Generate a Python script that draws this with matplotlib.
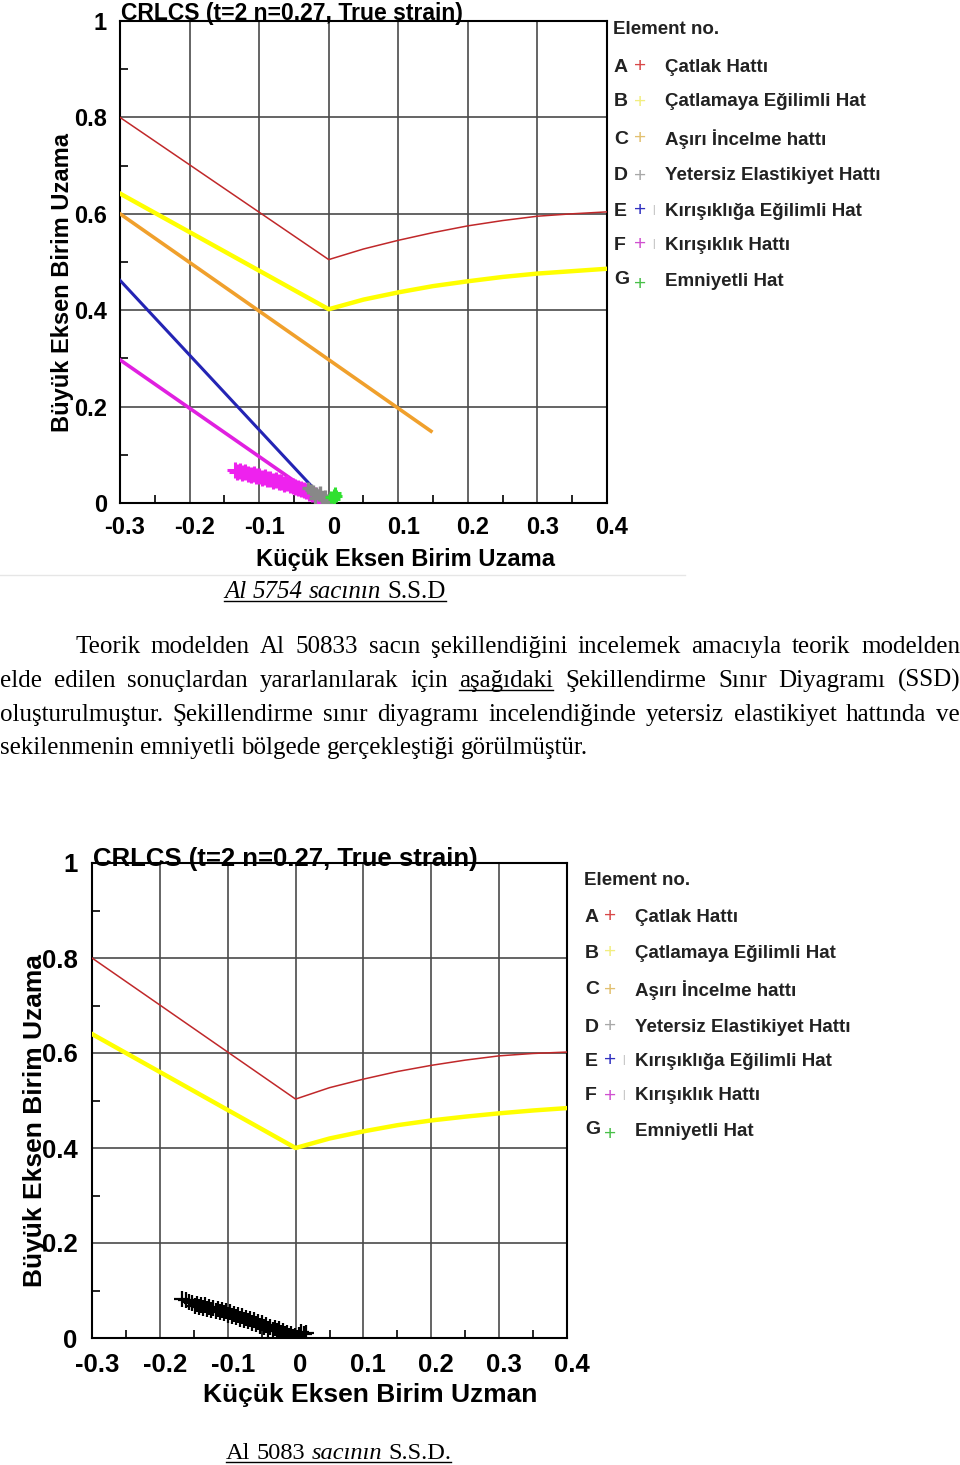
import matplotlib
matplotlib.use('Agg')
import matplotlib.pyplot as plt
from matplotlib.lines import Line2D
from matplotlib.transforms import ScaledTranslation

# ---------------- data ----------------
xticks = [-0.3, -0.2, -0.1, 0.0, 0.1, 0.2, 0.3, 0.4]
xtick_labels = ['-0.3', '-0.2', '-0.1', '0', '0.1', '0.2', '0.3', '0.4']
yticks = [0.0, 0.2, 0.4, 0.6, 0.8, 1.0]
ytick_labels = ['0', '0.2', '0.4', '0.6', '0.8', '1']

# chart 1 (Al 5754)
red1_x = [-0.3, 0.0, 0.05, 0.1, 0.15, 0.2, 0.25, 0.3, 0.35, 0.4]
red1_y = [0.80, 0.505, 0.527, 0.545, 0.561, 0.575, 0.586, 0.595, 0.600, 0.604]
yel1_x = [-0.3, 0.0, 0.05, 0.1, 0.15, 0.2, 0.25, 0.3, 0.35, 0.4]
yel1_y = [0.642, 0.402, 0.422, 0.437, 0.450, 0.460, 0.469, 0.476, 0.481, 0.486]
org1_x = [-0.3, 0.147]
org1_y = [0.60, 0.149]
blu1_x = [-0.3, -0.015]
blu1_y = [0.462, 0.020]
mag1_x = [-0.3, -0.012]
mag1_y = [0.297, 0.008]
magp_x = [-0.135, -0.132, -0.128, -0.124, -0.12, -0.116, -0.112, -0.108, -0.104, -0.10,
          -0.096, -0.092, -0.088, -0.084, -0.08, -0.076, -0.072, -0.068, -0.064, -0.06,
          -0.056, -0.052, -0.048, -0.044, -0.04, -0.036, -0.032, -0.028, -0.024, -0.02,
          -0.016, -0.012, -0.008]
magp_y = [0.068, 0.064, 0.066, 0.062, 0.065, 0.061, 0.058, 0.060, 0.055, 0.057,
          0.052, 0.054, 0.049, 0.050, 0.046, 0.047, 0.043, 0.044, 0.040, 0.041,
          0.037, 0.035, 0.033, 0.031, 0.029, 0.026, 0.024, 0.021, 0.019, 0.016,
          0.013, 0.010, 0.007]
gray_x = [-0.03, -0.026, -0.022, -0.018, -0.014, -0.01, -0.007, -0.004, -0.002, 0.0, 0.002, -0.005, -0.012, -0.02]
gray_y = [0.032, 0.028, 0.024, 0.020, 0.016, 0.012, 0.009, 0.006, 0.003, 0.001, 0.004, 0.015, 0.022, 0.010]
green_x = [0.004, 0.007, 0.009, 0.011, 0.008]
green_y = [0.012, 0.016, 0.020, 0.015, 0.009]

# chart 2 (Al 5083)
red2_x = [-0.3, 0.0, 0.05, 0.1, 0.15, 0.2, 0.25, 0.3, 0.35, 0.4]
red2_y = [0.80, 0.503, 0.527, 0.545, 0.561, 0.574, 0.585, 0.594, 0.599, 0.602]
yel2_x = [-0.3, 0.0, 0.05, 0.1, 0.15, 0.2, 0.25, 0.3, 0.35, 0.4]
yel2_y = [0.640, 0.400, 0.420, 0.435, 0.448, 0.458, 0.466, 0.473, 0.479, 0.484]
blk_x = [-0.168, -0.162, -0.157, -0.152, -0.148, -0.145, -0.142, -0.139, -0.136, -0.133,
         -0.13, -0.127, -0.124, -0.121, -0.118, -0.115, -0.112, -0.109, -0.106, -0.103,
         -0.1, -0.097, -0.094, -0.091, -0.088, -0.085, -0.082, -0.079, -0.076, -0.073,
         -0.07, -0.067, -0.064, -0.061, -0.058, -0.055, -0.052, -0.049, -0.046, -0.043,
         -0.04, -0.037, -0.034, -0.031, -0.028, -0.025, -0.022, -0.019, -0.016, -0.013,
         -0.01, -0.007, -0.004, -0.001, 0.002, 0.005, 0.008, 0.012, 0.016]
blk_y = [0.083, 0.080, 0.076, 0.074, 0.068, 0.072, 0.066, 0.070, 0.063, 0.069,
         0.061, 0.066, 0.059, 0.064, 0.056, 0.062, 0.054, 0.059, 0.052, 0.057,
         0.049, 0.054, 0.046, 0.051, 0.044, 0.049, 0.041, 0.046, 0.038, 0.043,
         0.035, 0.040, 0.032, 0.037, 0.029, 0.034, 0.026, 0.031, 0.023, 0.028,
         0.020, 0.024, 0.017, 0.021, 0.014, 0.018, 0.011, 0.014, 0.008, 0.011,
         0.005, 0.008, 0.002, 0.005, 0.001, 0.006, 0.012, 0.008, 0.010]

legend_letters = ['A', 'B', 'C', 'D', 'E', 'F', 'G']
legend_names = ['Çatlak Hattı', 'Çatlamaya Eğilimli Hat', 'Aşırı İncelme hattı',
                'Yetersiz Elastikiyet Hattı', 'Kırışıklığa Eğilimli Hat', 'Kırışıklık Hattı',
                'Emniyetli Hat']
legend_colors = ['#d84848', '#f2ee80', '#e2c070', '#a8a8a8', '#3030c0', '#d050d0', '#48c048']

para_lines = [
    "Teorik modelden Al 50833 sacın şekillendiğini incelemek amacıyla teorik modelden",
    "elde edilen sonuçlardan yararlanılarak için aşağıdaki Şekillendirme Sınır Diyagramı (SSD)",
    "oluşturulmuştur. Şekillendirme sınır diyagramı incelendiğinde yetersiz elastikiyet hattında ve",
    "sekilenmenin emniyetli bölgede gerçekleştiği görülmüştür.",
]

# ---------------- figure ----------------
W, H = 960, 1465
fig = plt.figure(figsize=(9.6, 14.65), dpi=100)
fig.patch.set_facecolor('white')
renderer = fig.canvas.get_renderer()
SANS = 'Liberation Sans'
SERIF = 'Liberation Serif'


def fx(x):
    return x / W


def fy(y):
    return 1 - y / H


def style_axes(ax, tick_fs, pad):
    ax.set_xlim(-0.3, 0.4)
    ax.set_ylim(0, 1)
    ax.set_xticks(xticks)
    ax.set_xticklabels(xtick_labels)
    ax.set_yticks(yticks)
    ax.set_yticklabels(ytick_labels)
    ax.set_xticks([-0.25, -0.15, -0.05, 0.05, 0.15, 0.25, 0.35], minor=True)
    ax.set_yticks([0.1, 0.3, 0.5, 0.7, 0.9], minor=True)
    ax.tick_params(which='major', length=0, pad=pad)
    ax.tick_params(which='minor', direction='in', length=6, width=1.2, color='black')
    shift = ScaledTranslation(5 / 100, 0, fig.dpi_scale_trans)
    for lab in ax.get_xticklabels():
        lab.set_transform(lab.get_transform() + shift)
    for lab in ax.get_xticklabels() + ax.get_yticklabels():
        lab.set_fontfamily(SANS)
        lab.set_fontweight('bold')
        lab.set_fontsize(tick_fs)
    ax.grid(True, which='major', color='#4a4a4a', lw=1.2)
    ax.set_axisbelow(True)
    for s in ax.spines.values():
        s.set_linewidth(1.5)
        s.set_color('black')


def legend(x_letter, x_plus, x_text, y_head, ys):
    fig.text(fx(x_letter - 1), fy(y_head), 'Element no.', fontsize=13.5, fontweight='bold',
             family=SANS, va='center', ha='left', color='#222222')
    for i, (L, name, c) in enumerate(zip(legend_letters, legend_names, legend_colors)):
        y = ys[i]
        dy_letter = -3 if L == 'G' else 0
        dy_plus = 3 if L == 'G' else 0
        fig.text(fx(x_letter), fy(y + dy_letter), L, fontsize=14, fontweight='bold', family=SANS,
                 va='center', ha='left', color='#222222')
        fig.text(fx(x_plus), fy(y + dy_plus), '+', fontsize=15, family=SANS,
                 va='center', ha='center', color=c)
        if L in ('E', 'F'):
            fig.text(fx(x_plus + 13), fy(y - 1), '|', fontsize=7, family=SANS,
                     va='center', ha='center', color='#aaaaaa')
        fig.text(fx(x_text), fy(y), name, fontsize=13.5, fontweight='bold', family=SANS,
                 va='center', ha='left', color='#222222')


# ---- chart 1 ----
ax1 = fig.add_axes([fx(120), fy(503), 487 / W, 482 / H])
style_axes(ax1, 17, 9.5)
ax1.plot(red1_x, red1_y, color='#c0282a', lw=1.1, zorder=3)
ax1.plot(yel1_x, yel1_y, color='#ffff00', lw=3.2, zorder=3)
ax1.plot(org1_x, org1_y, color='#f0a02c', lw=2.6, zorder=3)
ax1.plot(blu1_x, blu1_y, color='#2424b4', lw=2.2, zorder=3)
ax1.plot(mag1_x, mag1_y, color='#e020e0', lw=2.6, zorder=3)
ax1.plot(magp_x, magp_y, ls='none', marker='+', ms=11, mew=2.2, color='#ee22ee', zorder=4)
ax1.plot(gray_x, gray_y, ls='none', marker='+', ms=9, mew=2.4, color='#888888', zorder=5)
ax1.plot(green_x, green_y, ls='none', marker='+', ms=9, mew=2.2, color='#30e030', zorder=6)
ax1.text(0.002, 1.003, 'CRLCS (t=2 n=0.27, True strain)', transform=ax1.transAxes,
         fontsize=16.5, fontweight='bold', family=SANS, va='baseline', ha='left')
ax1.set_xlabel('Küçük Eksen Birim Uzama', fontsize=17, fontweight='bold', family=SANS, va='center')
ax1.xaxis.set_label_coords(0.587, -0.118)
ax1.set_ylabel('Büyük Eksen Birim Uzama', fontsize=17, fontweight='bold', family=SANS, va='center')
ax1.yaxis.set_label_coords(-0.119, 0.457)
legend(614, 640, 665, 30, [67, 102, 139, 176, 211, 245, 282])

# separator line under chart 1
fig.add_artist(Line2D([fx(0), fx(685)], [fy(575), fy(575)], transform=fig.transFigure,
                      color='#e6e6e6', lw=1))

# ---- chart 2 ----
ax2 = fig.add_axes([fx(92), fy(1338), 475 / W, 475 / H])
style_axes(ax2, 18.5, 10.5)
ax2.plot(red2_x, red2_y, color='#c0282a', lw=1.1, zorder=3)
ax2.plot(yel2_x, yel2_y, color='#ffff00', lw=3.2, zorder=3)
ax2.plot(blk_x, blk_y, ls='none', marker='+', ms=12, mew=1.6, color='black', zorder=4)
ax2.text(0.002, 0.994, 'CRLCS (t=2 n=0.27, True strain)', transform=ax2.transAxes,
         fontsize=18.5, fontweight='bold', family=SANS, va='baseline', ha='left')
ax2.set_xlabel('Küçük Eksen Birim Uzman', fontsize=19, fontweight='bold', family=SANS, va='center')
ax2.xaxis.set_label_coords(0.586, -0.12)
ax2.set_ylabel('Büyük Eksen Birim Uzama', fontsize=19, fontweight='bold', family=SANS, va='center')
ax2.yaxis.set_label_coords(-0.12, 0.457)
legend(585, 610, 635, 880, [917, 953, 990, 1027, 1061, 1096, 1132])


# ---------------- body text ----------------
def measure(t):
    return t.get_window_extent(renderer=renderer).width


def space_width(size):
    a = fig.text(0, 0, 'n n', fontsize=size, family=SERIF)
    b = fig.text(0, 0, 'nn', fontsize=size, family=SERIF)
    w = measure(a) - measure(b)
    a.remove()
    b.remove()
    return w


def runs_line(runs, x0, y, size, x1=None, underline_all=False):
    """runs: list of (word, style, underline)"""
    texts, widths = [], []
    for word, st, ul in runs:
        t = fig.text(fx(x0), fy(y), word, fontsize=size, family=SERIF, style=st,
                     va='baseline', ha='left', color='black')
        texts.append(t)
        widths.append(measure(t))
    if x1 is None or len(runs) < 2:
        gap = space_width(size)
    else:
        gap = (x1 - x0 - sum(widths)) / (len(runs) - 1)
    x = x0
    for i, t in enumerate(texts):
        t.set_x(fx(x))
        if runs[i][2]:
            fig.add_artist(Line2D([fx(x), fx(x + widths[i])], [fy(y + 3), fy(y + 3)],
                                  transform=fig.transFigure, color='black', lw=1))
        x += widths[i] + gap
    end = x - gap
    if underline_all:
        fig.add_artist(Line2D([fx(x0), fx(end)], [fy(y + 3), fy(y + 3)],
                              transform=fig.transFigure, color='black', lw=1))
    return end


PFS = 18
bases = [653, 687, 721, 754]
lefts = [75, 0, 0, 0]
rights = [960, 960, 960, None]
for k, line in enumerate(para_lines):
    words = line.split(' ')
    runs = [(w, 'normal', (k == 1 and w == 'aşağıdaki')) for w in words]
    runs_line(runs, lefts[k], bases[k], PFS, rights[k])

# captions
runs_line([('Al', 'italic', False), ('5754', 'italic', False), ('sacının', 'italic', False),
           ('S.S.D', 'normal', False)], 224, 598, 18, None, underline_all=True)
runs_line([('Al', 'normal', False), ('5083', 'normal', False), ('sacının', 'italic', False),
           ('S.S.D.', 'normal', False)], 226, 1459, 17.6, None, underline_all=True)

fig.savefig('out.png', dpi=100)
